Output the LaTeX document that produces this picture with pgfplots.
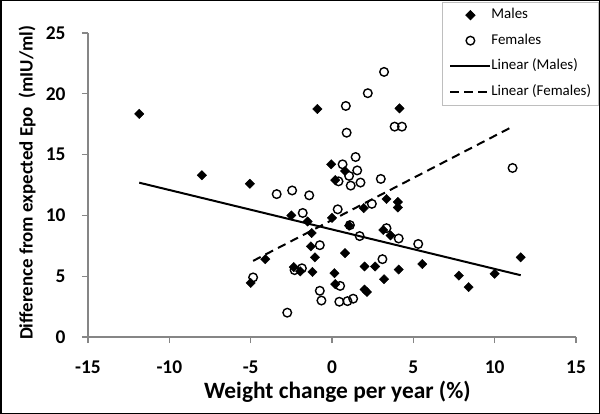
\documentclass[border=0pt]{standalone}
\usepackage{pgfplots}
\pgfplotsset{compat=1.18}
\usepackage{fontspec}
\setmainfont{Carlito}
\definecolor{axisgray}{RGB}{134,134,134}
\definecolor{legendgray}{RGB}{190,190,190}

\begin{document}
\begin{tikzpicture}
\begin{axis}[
    at={(88bp,77bp)}, anchor=south west,
    scale only axis, width=488bp, height=304bp,
    xmin=-15, xmax=15, ymin=0, ymax=25,
    xtick={-15,-10,...,15}, ytick={0,5,...,25},
    axis lines=left,
    axis line style={-, axisgray, line width=1.5bp},
    tick align=outside, major tick length=6bp,
    tick style={axisgray, line width=1.2bp},
    ticklabel style={font=\fontsize{19.5}{22}\selectfont\bfseries},
    xticklabel style={yshift=-14bp},
    yticklabel style={xshift=-13bp},
    /pgf/number format/assume math mode=true,
    xlabel={Weight change per year (\%)},
    ylabel={Difference from expected Epo\ \ (mIU/ml)},
    xlabel style={font=\fontsize{23.5}{27}\selectfont\bfseries,
        at={(axis description cs:0.511,-0.181)}, anchor=center},
    ylabel style={font=\fontsize{19}{22}\selectfont\bfseries,
        at={(axis description cs:-0.125,0.507)}, anchor=center},
    legend style={at={(1.0461,1.1036)}, anchor=north east,
        draw=legendgray, line width=0.8bp, fill=white,
        inner xsep=7bp, inner ysep=6bp, row sep=11bp,
        font=\fontsize{15}{17}\selectfont,
        nodes={inner sep=0pt, text height=11bp, text depth=3.5bp},
        /tikz/every even column/.append style={column sep=3bp}},
    legend cell align=left,
    legend image code/.code={\draw[mark repeat=2,mark phase=2,#1]
        plot coordinates {(0bp,0bp) (20bp,0bp) (40bp,0bp)};},
    clip=false,
]

% males
\addplot[only marks, mark=square*, mark size=3.3bp,
    mark options={rotate=45, fill=black, draw=black}] coordinates {
    (-11.85,18.35) (-0.9,18.75) (4.15,18.8) (-0.05,14.2) (0.8,13.65)
    (0.2,12.9) (-8.0,13.3) (-5.05,12.6) (-2.5,10.0) (-1.5,9.5)
    (-1.25,8.55) (-1.3,7.45) (-1.05,6.55) (-4.1,6.4) (0.0,9.8)
    (-5.0,4.45) (-2.35,5.75) (-1.95,5.4) (-1.2,5.35) (0.15,5.25)
    (0.2,4.35) (2.0,3.9) (2.15,3.7) (3.2,4.75) (4.1,5.55)
    (2.0,5.8) (2.65,5.8) (5.55,6.0) (7.8,5.05) (8.4,4.1)
    (10.0,5.2) (11.6,6.55) (3.6,8.35) (3.15,8.8) (1.05,9.15)
    (0.8,6.9) (1.95,10.6) (3.35,11.35) (4.05,11.1) (4.05,10.65)
};
\addlegendentry{Males}

% females
\addplot[only marks, mark=o, mark size=4.3bp,
    mark options={draw=black, line width=1.4bp}] coordinates {
    (3.2,21.8) (2.2,20.05) (0.85,19.0) (3.85,17.3) (4.3,17.3)
    (0.9,16.8) (1.45,14.8) (0.65,14.2) (1.55,13.7) (11.1,13.9)
    (1.05,13.25) (3.0,13.0) (0.4,12.8) (1.15,12.45) (1.75,12.7)
    (-3.4,11.75) (-2.45,12.05) (-1.4,11.65) (-1.8,10.2) (0.35,10.5)
    (2.45,10.95) (1.1,9.2) (3.35,8.95) (4.1,8.1) (1.7,8.3)
    (5.3,7.65) (-0.75,7.55) (3.1,6.4) (-2.3,5.5) (-1.85,5.65)
    (-4.85,4.9) (0.5,4.2) (-0.75,3.8) (-0.65,3.0) (0.45,2.9)
    (0.95,2.95) (1.3,3.15) (-2.75,2.0)
};
\addlegendentry{Females}

% trend lines
\addplot[black, line width=2bp, mark=none] coordinates {
    (-11.85,12.69) (11.6,5.08)
};
\addlegendentry{Linear (Males)}
\addplot[black, line width=2bp, mark=none, dash pattern=on 8.5bp off 5.5bp]
    coordinates {
    (-4.85,6.26) (11.1,17.3)
};
\addlegendentry{Linear (Females)}
\end{axis}
\draw[black, line width=1.5bp] (0.75bp,0.75bp) rectangle (599.25bp,413.25bp);
\end{tikzpicture}
\end{document}
